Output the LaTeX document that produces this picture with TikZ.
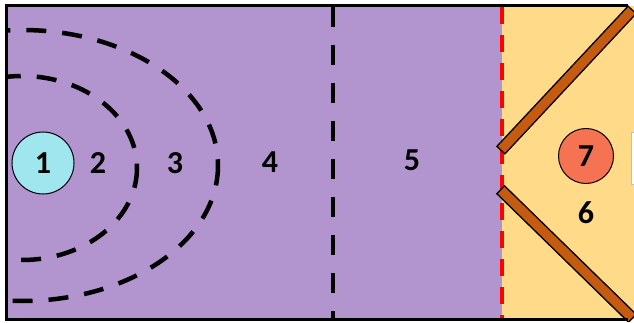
\documentclass[tikz,border=0pt]{standalone}
\usepackage{fontspec}
\setmainfont{Carlito}
\definecolor{courtpurple}{RGB}{178,148,206}
\definecolor{zoneyellow}{RGB}{255,218,136}
\definecolor{plankbrown}{RGB}{197,90,17}
\definecolor{circlecyan}{RGB}{160,230,238}
\definecolor{circleorange}{RGB}{245,115,82}
\tikzset{
  lbl/.style={font=\bfseries\fontsize{32}{32}\selectfont, inner sep=0pt},
  zoneline/.style={line width=4.5pt, dash pattern=on 20pt off 16pt},
  plank/.style={draw=black, line width=1.3pt, fill=plankbrown, rectangle, inner sep=0pt, minimum height=11pt},
  marker/.style={circle, draw=black, line width=1pt, inner sep=0pt, font=\bfseries\fontsize{32}{32}\selectfont}
}
\begin{document}
\begin{tikzpicture}[x=1pt,y=-1pt]
\useasboundingbox (0,0) rectangle (634,323);
\fill[white] (0,0) rectangle (634,323);
% regions
\fill[courtpurple] (6,6) rectangle (502,319);
\fill[zoneyellow] (502,6) rectangle (634,319);
% arcs
\begin{scope}
\clip (7,7) rectangle (502,318);
\draw[zoneline] (22,168) ellipse [x radius=115, y radius=92];
\draw[zoneline] (22,165.5) ellipse [x radius=196, y radius=135.5];
\end{scope}
% dashed black line
\draw[line width=4.5pt, dash pattern=on 20pt off 18pt] (333,7) -- (333,319);
% red dashed line
\draw[red, line width=4.5pt, dash pattern=on 17pt off 11pt] (502,7) -- (502,319);
% planks
\begin{scope}
\clip (0,3) rectangle (634,321);
\node[plank, minimum width=192pt, rotate=46.9] (upperplank) at (566.5,80) {};
\node[plank, minimum width=184pt, rotate=-44.3] (lowerplank) at (566.5,254) {};
\end{scope}
% side box glimpse
\draw[gray!50, line width=0.8pt, fill=white] (631.5,132) rectangle (640,184);
% frame
\draw[line width=3pt] (5,6) -- (628,6);
\draw[line width=3pt] (5,319) -- (628,319);
\draw[line width=3pt] (6,4.5) -- (6,320.5);
% markers
\node[marker, fill=circlecyan, minimum size=62pt] (one) at (43,163) {1};
\node[marker, fill=circleorange, minimum size=55pt] (seven) at (586,156) {7};
% labels
\node[lbl] (two) at (98,163) {2};
\node[lbl] (three) at (175,163) {3};
\node[lbl] (four) at (270,162) {4};
\node[lbl] (five) at (412,160) {5};
\node[lbl] (six) at (586,213) {6};
\end{tikzpicture}
\end{document}
